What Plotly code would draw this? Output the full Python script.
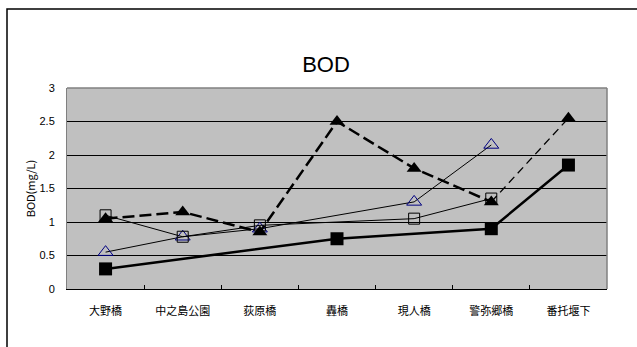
import plotly.graph_objects as go

# Monitoring sites along the river
sites = ["大野橋", "中之島公園", "荻原橋", "轟橋", "現人橋", "警弥郷橋", "番托堰下"]

# BOD (mg/L) per survey; None where no sample was taken
bod_filled_square = [0.3, None, None, 0.75, None, 0.9, 1.85]
bod_open_square = [1.1, 0.78, 0.95, None, 1.05, 1.35, None]
bod_open_triangle = [0.55, 0.78, 0.9, None, 1.3, 2.15, None]
bod_filled_triangle = [1.05, 1.15, 0.85, 2.5, 1.8, 1.3, 2.55]

y_ticks = [0, 0.5, 1, 1.5, 2, 2.5, 3]
y_tick_text = ["0", "0.5", "1", "1.5", "2", "2.5", "3"]

W, H = 637, 347
ML, MR, MT, MB = 67, 30, 88, 58
PW, PH = W - ML - MR, H - MT - MB

fig = go.Figure()

fig.add_trace(go.Scatter(
    x=sites, y=bod_open_triangle, mode="lines+markers", connectgaps=True,
    line=dict(color="black", width=1),
    marker=dict(symbol="triangle-up-open", size=13, color="#000080",
                line=dict(color="#000080", width=1)),
))
fig.add_trace(go.Scatter(
    x=sites, y=bod_open_square, mode="lines+markers", connectgaps=True,
    line=dict(color="black", width=1),
    marker=dict(symbol="square-open", size=11, color="black",
                line=dict(color="black", width=1)),
))
# Dashed series: last reach drawn with a lighter dash
fig.add_trace(go.Scatter(
    x=sites[-2:], y=bod_filled_triangle[-2:], mode="lines",
    line=dict(color="black", width=1.3, dash="8px,5px"),
))
fig.add_trace(go.Scatter(
    x=sites[:-1], y=bod_filled_triangle[:-1], mode="lines",
    line=dict(color="black", width=2.5, dash="12px,5px"),
))
fig.add_trace(go.Scatter(
    x=sites, y=bod_filled_triangle, mode="markers",
    marker=dict(symbol="triangle-up", size=13, color="black"),
))
fig.add_trace(go.Scatter(
    x=sites, y=bod_filled_square, mode="lines+markers", connectgaps=True,
    line=dict(color="black", width=2.5),
    marker=dict(symbol="square", size=13, color="black"),
))

font_jp = "Noto Sans CJK JP, Liberation Sans, sans-serif"

fig.update_layout(
    width=W, height=H,
    margin=dict(l=ML, r=MR, t=MT, b=MB),
    paper_bgcolor="white",
    plot_bgcolor="#C0C0C0",
    showlegend=False,
    font=dict(family=font_jp, size=11, color="black"),
    title=dict(text="BOD", x=(326 - ML) / PW, xref="paper", xanchor="center",
               y=1 - 64 / H, yanchor="middle",
               font=dict(family="Liberation Sans, Arial, sans-serif", size=22, color="black")),
    xaxis=dict(
        type="category", categoryorder="array", categoryarray=sites,
        range=[-0.5, 6.5],
        tickson="boundaries", ticks="inside", ticklen=4, tickcolor="black",
        showgrid=False, showline=True, linecolor="black", linewidth=1,
        mirror=False, tickfont=dict(size=11), zeroline=False,
        ticklabelstandoff=12,
    ),
    yaxis=dict(
        range=[0, 3], tickvals=y_ticks, ticktext=y_tick_text,
        showgrid=True, gridcolor="black", gridwidth=1,
        showline=True, linecolor="#808080", linewidth=1,
        ticks="", ticklabelstandoff=9, zeroline=False,
        tickfont=dict(size=11, family="Liberation Sans, Arial, sans-serif"),
        title=dict(text="BOD(mg/L)", standoff=1, font=dict(size=11)),
    ),
    shapes=[
        # gray plot-area frame on the top and right
        dict(type="line", xref="paper", yref="paper", x0=0, x1=1, y0=1, y1=1,
             line=dict(color="#808080", width=1.5)),
        dict(type="line", xref="paper", yref="paper", x0=1, x1=1, y0=0, y1=1,
             line=dict(color="#808080", width=1.5)),
        # outer chart frame
        dict(type="rect", xref="paper", yref="paper",
             x0=(7 - ML) / PW, x1=(W + 20 - ML) / PW,
             y0=-(H + 20 - MT - PH) / PH, y1=1 + (MT - 9) / PH,
             line=dict(color="black", width=1.5), layer="above"),
    ],
)

fig.write_html("out.html")
